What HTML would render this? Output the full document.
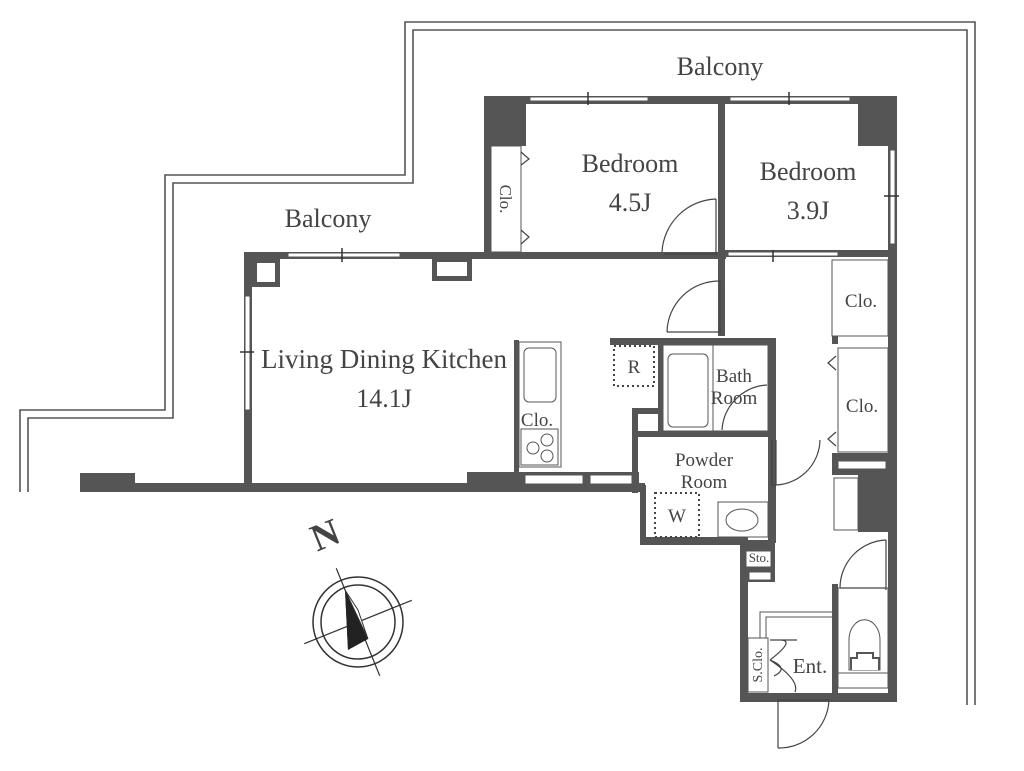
<!DOCTYPE html>
<html><head><meta charset="utf-8"><style>
html,body{margin:0;padding:0;background:#fff;}
svg{display:block;}
text{font-family:"Liberation Serif","DejaVu Serif",serif;fill:#444;}
</style></head><body>
<svg width="1024" height="771" viewBox="0 0 1024 771" xmlns="http://www.w3.org/2000/svg">
<g fill="none" stroke="#555" stroke-width="1.6">
<polyline points="20,492 20,410 165,410 165,175 405,175 405,22 975,22 975,705"/>
<polyline points="28,492 28,418 173,418 173,183 413,183 413,30 967,30 967,705"/>
</g>
<g fill="#555">
<rect x="80" y="483" width="565" height="9"/>
<rect x="80" y="473" width="55" height="19"/>
<rect x="467" y="472" width="55" height="20"/>
<rect x="519" y="472" width="120" height="14"/>
<rect x="244" y="252" width="8" height="240"/>
<rect x="244" y="252" width="482" height="7"/>
<rect x="252" y="259" width="28" height="28"/>
<rect x="432" y="259" width="40" height="22"/>
<rect x="484" y="96" width="7" height="163"/>
<rect x="484" y="96" width="42" height="50"/>
<rect x="484" y="96" width="413" height="8"/>
<rect x="858" y="96" width="39" height="50"/>
<rect x="718" y="96" width="7" height="240"/>
<rect x="888" y="96" width="9" height="606"/>
<rect x="724" y="250" width="164" height="7"/>
<rect x="858" y="475" width="30" height="57"/>
<rect x="610" y="338" width="165" height="7"/>
<rect x="658" y="338" width="6" height="97"/>
<rect x="768" y="338" width="8" height="205"/>
<rect x="632" y="408" width="32" height="6"/>
<rect x="632" y="408" width="6" height="85"/>
<rect x="632" y="431" width="140" height="6"/>
<rect x="640" y="485" width="6" height="60"/>
<rect x="640" y="537" width="108" height="8"/>
<rect x="740" y="537" width="8" height="165"/>
<rect x="740" y="693" width="157" height="9"/>
<rect x="740" y="540" width="35" height="42"/>
<rect x="514" y="340" width="5" height="135"/>
<rect x="832" y="584" width="6" height="110"/>
<rect x="832" y="336" width="6" height="8"/>
<rect x="832" y="453" width="56" height="22"/>
</g>
<g fill="#fff">
<rect x="257" y="263" width="18" height="19"/>
<rect x="437" y="262" width="30" height="14"/>
</g>
<g fill="#fff" stroke="#555" stroke-width="1">
<rect x="288" y="253" width="112" height="4"/>
<rect x="530" y="97" width="118" height="4"/>
<rect x="730" y="97" width="120" height="4"/>
<rect x="245" y="296" width="5" height="114"/>
<rect x="890" y="150" width="5" height="94"/>
<rect x="728" y="252" width="110" height="4"/>
<rect x="525" y="475" width="58" height="9"/>
<rect x="590" y="475" width="42" height="9"/>
<rect x="746" y="551" width="25" height="16"/>
<rect x="749" y="572" width="22" height="8"/>
<rect x="491" y="146" width="30" height="106"/>
<rect x="832" y="260" width="56" height="76"/>
<rect x="838" y="348" width="50" height="104"/>
<rect x="838" y="461" width="48" height="8"/>
<rect x="834" y="478" width="24" height="52"/>
<rect x="519" y="342" width="42" height="125"/>
<rect x="524" y="348" width="32" height="54" rx="5"/>
<rect x="521" y="429" width="37" height="36"/>
<circle cx="533" cy="448" r="6"/><circle cx="547" cy="440" r="6"/><circle cx="547" cy="456" r="6"/>
<rect x="663" y="345" width="105" height="86"/>
<rect x="668" y="354" width="40" height="73" rx="5"/>
<line x1="713" y1="345" x2="713" y2="431"/>
<rect x="718" y="502" width="50" height="35"/>
<ellipse cx="742" cy="520" rx="16" ry="11"/>
<rect x="838" y="588" width="50" height="100"/>
<line x1="838" y1="673" x2="888" y2="673"/>
<path d="M849 670 V640 a13 17 0 0 1 31 0 V670 Z"/>
<path d="M851 670 v-12 h6 v-5 h16 v5 h6 v12" stroke-width="2"/>
<rect x="748" y="638" width="20" height="54"/>
<polyline points="760,638 760,612 832,612" fill="none"/>
<polyline points="766,638 766,617 832,617" fill="none"/>
</g>
<g stroke="#333" stroke-width="1.5">
<line x1="342" y1="248" x2="342" y2="262"/>
<line x1="588" y1="92" x2="588" y2="105"/>
<line x1="789" y1="92" x2="789" y2="105"/>
<line x1="240" y1="352" x2="254" y2="352"/>
<line x1="884" y1="196" x2="899" y2="196"/>
<line x1="773" y1="250" x2="773" y2="262"/>
</g>
<g fill="none" stroke="#444" stroke-width="1.2">
<path d="M716 199 V255 M716 199 A56 56 0 0 0 662 252"/>
<line x1="664" y1="254" x2="716" y2="254"/>
<path d="M720 281 V333 M720 281 A52 52 0 0 0 667 332"/>
<line x1="667" y1="332" x2="720" y2="332"/>
<path d="M767 385 A48 48 0 0 0 722 430"/>
<path d="M772 440 V485 M772 485 A46 46 0 0 0 820 440"/>
<line x1="776" y1="440" x2="776" y2="485"/>
<path d="M886 540 V590 M886 540 A48 48 0 0 0 840 588"/>
<line x1="840" y1="588" x2="886" y2="588"/>
<path d="M778 700 V748 M778 700 H829 A50 50 0 0 1 778 748"/>
<path d="M770 640 H797 M770 660 Q790 668 774 676 M770 660 Q796 640 780 640 M770 660 Q800 680 795 692"/>
<path d="M521 152 L529 159 L521 165 M521 230 L529 237 L521 244"/>
<path d="M836 356 L828 363 L836 370 M836 432 L828 439 L836 446"/>
</g>
<g fill="none" stroke="#444" stroke-width="2" stroke-dasharray="2,3">
<rect x="614" y="346" width="40" height="40"/>
<rect x="655" y="493" width="44" height="44"/>
</g>
<g font-size="26" text-anchor="middle" font-family="Liberation Serif, DejaVu Serif, serif">
<text x="720" y="75">Balcony</text>
<text x="328" y="227">Balcony</text>
<text x="630" y="172">Bedroom</text>
<text x="630" y="211">4.5J</text>
<text x="808" y="180">Bedroom</text>
<text x="808" y="219">3.9J</text>
<text x="384" y="368" font-size="27">Living Dining Kitchen</text>
<text x="384" y="407">14.1J</text>
</g>
<g font-size="19" text-anchor="middle" font-family="Liberation Serif, DejaVu Serif, serif">
<text x="861" y="307">Clo.</text>
<text x="862" y="412">Clo.</text>
<text x="537" y="426">Clo.</text>
<text x="704" y="466">Powder</text>
<text x="704" y="488">Room</text>
<text x="734" y="382">Bath</text>
<text x="734" y="404">Room</text>
<text x="634" y="373">R</text>
<text x="677" y="522">W</text>
<text x="810" y="673" font-size="21">Ent.</text>
<text x="759" y="562" font-size="13">Sto.</text>
<text transform="translate(500,199) rotate(90)" font-size="17">Clo.</text>
<text transform="translate(762,665) rotate(-90)" font-size="14">S.Clo.</text>
</g>
<g transform="translate(358,622)">
<circle r="45" fill="none" stroke="#333" stroke-width="1.5"/>
<circle r="37" fill="none" stroke="#333" stroke-width="1.5"/>
<g transform="rotate(-22)">
<line x1="0" y1="-58" x2="0" y2="58" stroke="#333" stroke-width="1.2"/>
<line x1="-58" y1="0" x2="58" y2="0" stroke="#333" stroke-width="1.2"/>
</g>
<polygon points="-13,-32 0,-12 -10,28 " fill="#222"/>
<polygon points="-13,-32 -10,28 10,17" fill="#222"/>
<polygon points="-13,-32 10,17 0,-12" fill="#fff" stroke="#333"/>
<text x="-30" y="-75" font-size="38" font-weight="bold" fill="#222" transform="rotate(-22 -30 -80)" text-anchor="middle">N</text>
</g>
</svg>
</body></html>
